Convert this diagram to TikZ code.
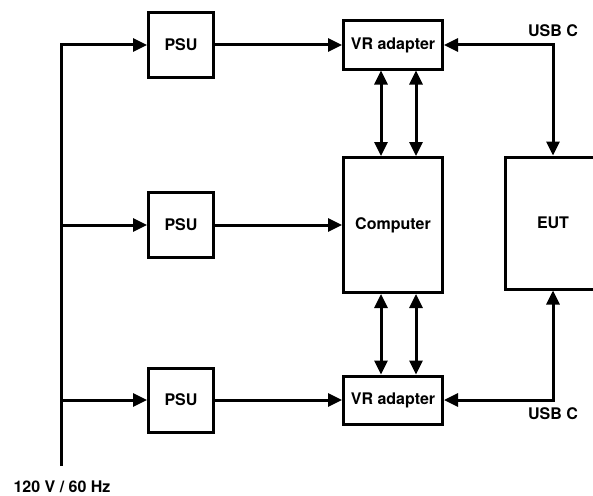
\documentclass[tikz,border=0pt]{standalone}
\usepackage{fontspec}
\setmainfont{TeX Gyre Heros}
\usetikzlibrary{arrows.meta,positioning,calc}

\tikzset{
  >={Triangle[length=14pt,width=13pt]},
  wire/.style={line width=3pt},
  blk/.style={draw, line width=3pt, fill=white, inner sep=0pt,
    font=\bfseries\fontsize{16}{18}\selectfont},
  lbl/.style={font=\bfseries\fontsize{16}{18}\selectfont}
}

\begin{document}
\begin{tikzpicture}[x=1pt,y=-1pt]
    \useasboundingbox (0,0) rectangle (593,495);
    \clip (0,0) rectangle (593,495);

    % Power supplies
    \node[blk, minimum width=65, minimum height=64] (psuTop) at (181,45) {PSU};
    \node[blk, minimum width=65, minimum height=65] (psuMid) at (181,225) {PSU};
    \node[blk, minimum width=65, minimum height=64] (psuBot) at (181,400) {PSU};

    % VR adapters and computer
    \node[blk, minimum width=99, minimum height=48] (vrTop) at (393,45) {VR adapter};
    \node[blk, minimum width=99, minimum height=135] (comp) at (393,225) {Computer};
    \node[blk, minimum width=99, minimum height=48] (vrBot) at (393,400) {VR adapter};

    % Equipment under test
    \node[blk, minimum width=96, minimum height=132] (eut) at (553,223) {EUT};

    % Mains
    \coordinate (mains) at (61,466);
    \node[lbl] (mainsLbl) at (62,487) {120 V / 60 Hz};
    \draw[wire,->] (mains) |- (psuTop.west);
    \draw[wire,->] (mains |- psuMid.west) -- (psuMid.west);
    \draw[wire,->] (mains |- psuBot.west) -- (psuBot.west);

    % PSU outputs
    \draw[wire,->] (psuTop) -- (vrTop);
    \draw[wire,->] (psuMid) -- (comp);
    \draw[wire,->] (psuBot) -- (vrBot);

    % Links between adapters and computer
    \foreach \dx in {-12,23} {
        \draw[wire,<->] ($(vrTop.south)+(\dx,0)$) -- ($(comp.north)+(\dx,0)$);
        \draw[wire,<->] ($(comp.south)+(\dx,0)$) -- ($(vrBot.north)+(\dx,0)$);
    }

    % USB C
    \draw[wire,<->] (vrTop.east) -| (eut.north);
    \draw[wire,<->] (vrBot.east) -| (eut.south);
    \node[lbl] (usbTop) at (553,31) {USB C};
    \node[lbl] (usbBot) at (553,414) {USB C};
\end{tikzpicture}
\end{document}
